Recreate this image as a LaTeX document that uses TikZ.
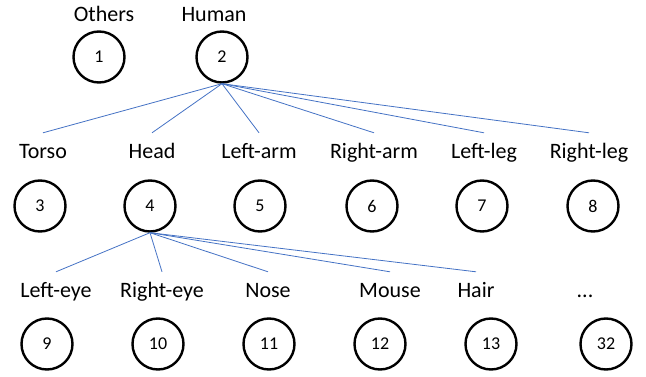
\documentclass[tikz,border=0pt]{standalone}
\usepackage{fontspec}
\setmainfont{Carlito}
\begin{document}
\begin{tikzpicture}[x=1pt,y=-1pt,
  part/.style={circle,draw=black,line width=2.4pt,minimum size=51pt,inner sep=0pt,font=\fontsize{18}{20}\selectfont},
  caption/.style={anchor=base,inner sep=0pt,text height=26pt,text depth=0pt,font=\fontsize{22}{24}\selectfont},
  link/.style={draw={rgb,255:red,68;green,114;blue,196},line width=0.8pt}]
\useasboundingbox (0,0) rectangle (646,377);

% top level
\node[caption] (lOthers) at (104,22) {Others};
\node[caption] (lHuman) at (214,22) {Human};
\node[part] (c1) at (99,57) {1};
\node[part] (c2) at (222,57) {2};

% body parts
\node[caption] (lTorso) at (43,159) {Torso};
\node[caption] (lHead) at (152,159) {Head};
\node[caption] (lLarm) at (259,159) {Left-arm};
\node[caption] (lRarm) at (374,159) {Right-arm};
\node[caption] (lLleg) at (484,159) {Left-leg};
\node[caption] (lRleg) at (589,159) {Right-leg};
\node[part] (c3) at (40,206) {3};
\node[part] (c4) at (150,206) {4};
\node[part] (c5) at (260,206) {5};
\node[part] (c6) at (372,206) {6};
\node[part] (c7) at (482,206) {7};
\node[part] (c8) at (593,206) {8};

% head parts
\node[caption] (lLeye) at (56,298) {Left-eye};
\node[caption] (lReye) at (162,298) {Right-eye};
\node[caption] (lNose) at (268,298) {Nose};
\node[caption] (lMouse) at (390,298) {Mouse};
\node[caption] (lHair) at (476,298) {Hair};
\node[caption] (lMore) at (585,298) {...};
\node[part] (c9) at (47,344) {9};
\node[part] (c10) at (158,344) {10};
\node[part] (c11) at (269,344) {11};
\node[part] (c12) at (380,344) {12};
\node[part] (c13) at (491,344) {13};
\node[part] (c32) at (606,344) {32};

% hierarchy links
\foreach \t in {lTorso,lHead,lLarm,lRarm,lLleg,lRleg}
  \draw[link] (c2.south) -- (\t.north);
\foreach \t in {lLeye,lReye,lNose,lMouse,lHair}
  \draw[link] (c4.south) -- (\t.north);
\end{tikzpicture}
\end{document}
